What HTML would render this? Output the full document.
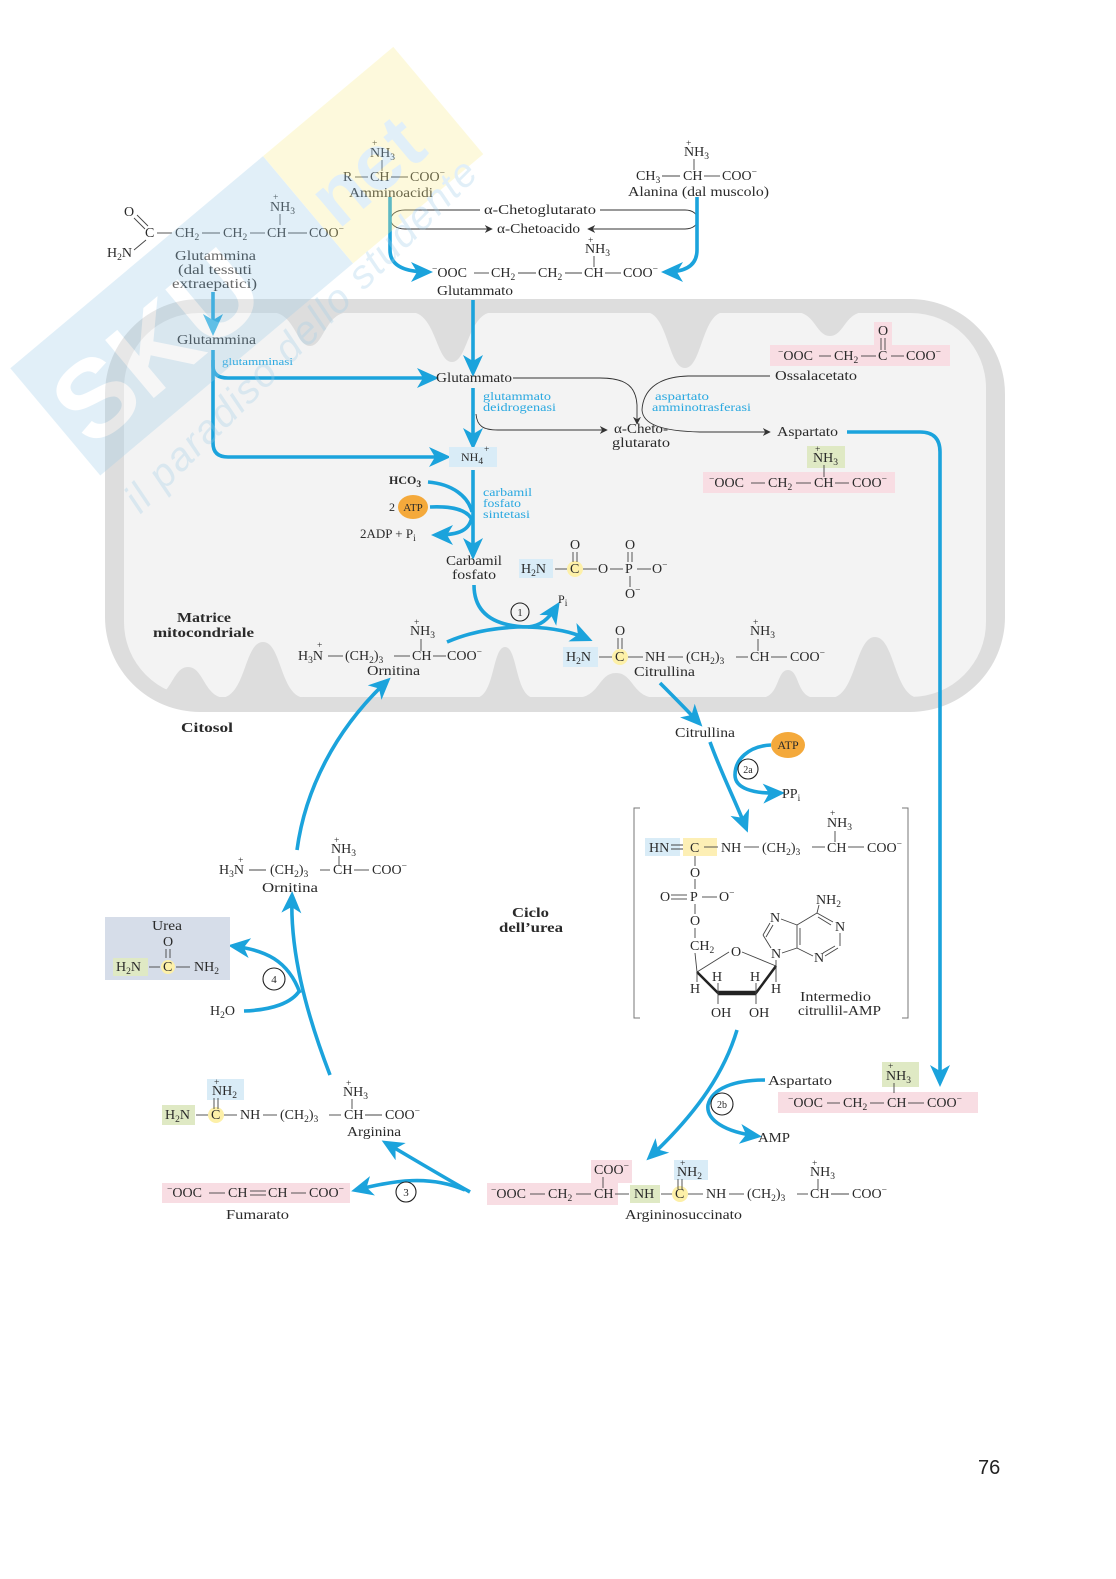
<!DOCTYPE html>
<html><head><meta charset="utf-8"><style>
html,body{margin:0;padding:0;background:#fff;}
svg{display:block}
text{font-family:"Liberation Serif",serif;font-size:14px;fill:#2a2a2a}
.s{font-size:9.5px}
.b{font-weight:bold}
.en{fill:#29a8e0;font-size:12px}
.bd{stroke:#444;stroke-width:0.9;fill:none}
.bl{stroke:#1ba3dc;stroke-width:3.6;fill:none}
.bk{stroke:#333;stroke-width:0.9;fill:none}
</style></head><body>
<svg width="1116" height="1579" viewBox="0 0 1116 1579" xmlns="http://www.w3.org/2000/svg">
<defs>
<marker id="ab" markerUnits="userSpaceOnUse" markerWidth="22" markerHeight="22" viewBox="0 0 22 22" refX="17" refY="11" orient="auto"><path d="M0,1 L22,11 L0,21 L6,11 Z" fill="#1ba3dc"/></marker>
<marker id="ak" markerUnits="userSpaceOnUse" markerWidth="8" markerHeight="8" viewBox="0 0 10 10" refX="9" refY="5" orient="auto"><path d="M0,0 L10,5 L0,10 L3,5 Z" fill="#333"/></marker>
</defs>

<!-- Mitochondrion -->
<rect x="105" y="299" width="900" height="413" rx="95" fill="#dddddd"/>
<rect x="124" y="313" width="862" height="384" rx="75" fill="#f3f3f3"/>
<g fill="#dddddd">
<path d="M270,312 C295,312 296,346 310,346 C324,346 325,312 350,312 Z"/>
<path d="M410,312 C436,312 436,362 452,362 C468,362 468,312 494,312 Z"/>
<path d="M645,312 C668,312 668,368 685,368 C702,368 702,312 725,312 Z"/>
<path d="M795,312 C815,312 816,336 830,336 C844,336 845,312 865,312 Z"/>
<path d="M150,698 C172,698 172,667 188,667 C204,667 204,698 226,698 Z"/>
<path d="M220,698 C246,698 244,642 263,642 C282,642 280,698 306,698 Z"/>
<path d="M475,698 C495,698 492,647 505,647 C518,647 515,698 535,698 Z"/>
<path d="M575,698 C600,698 598,673 616,673 C634,673 632,698 657,698 Z"/>
<path d="M760,698 C780,698 776,670 788,670 C800,670 796,698 816,698 Z"/>
<path d="M830,698 C856,698 855,637 875,637 C895,637 894,698 920,698 Z"/>
</g>

<!-- Top: Amminoacidi -->
<text x="372" y="146" class="s">+</text>
<text x="370" y="157">NH<tspan dy="3" class="s">3</tspan></text>
<line x1="382" y1="160" x2="382" y2="171" class="bd"/>
<text x="343" y="181">R</text>
<line x1="355" y1="177" x2="368" y2="177" class="bd"/>
<text x="370" y="181">CH</text>
<line x1="391" y1="177" x2="408" y2="177" class="bd"/>
<text x="410" y="181">COO<tspan dy="-5" class="s">−</tspan></text>
<text x="349" y="197" textLength="84" lengthAdjust="spacingAndGlyphs">Amminoacidi</text>

<!-- Alanina -->
<text x="686" y="146" class="s">+</text>
<text x="684" y="156">NH<tspan dy="3" class="s">3</tspan></text>
<line x1="694" y1="159" x2="694" y2="170" class="bd"/>
<text x="636" y="180">CH<tspan dy="3" class="s">3</tspan></text>
<line x1="662" y1="176" x2="680" y2="176" class="bd"/>
<text x="683" y="180">CH</text>
<line x1="704" y1="176" x2="720" y2="176" class="bd"/>
<text x="722" y="180">COO<tspan dy="-5" class="s">−</tspan></text>
<text x="628" y="196" textLength="141" lengthAdjust="spacingAndGlyphs">Alanina (dal muscolo)</text>

<!-- loops -->
<path d="M480,210 H405 C386,210 386,229 405,229 H492" class="bk" marker-end="url(#ak)"/>
<path d="M600,210 H685 C702,210 702,229 685,229 H588" class="bk" marker-end="url(#ak)"/>
<text x="484" y="214" textLength="112" lengthAdjust="spacingAndGlyphs">α-Chetoglutarato</text>
<text x="497" y="233" textLength="83" lengthAdjust="spacingAndGlyphs">α-Chetoacido</text>

<path d="M390,197 L390,250 Q390,272 428,272" class="bl" marker-end="url(#ab)"/>
<path d="M697,197 L697,250 Q697,272 666,272" class="bl" marker-end="url(#ab)"/>

<!-- Glutammato top -->
<text x="588" y="243" class="s">+</text>
<text x="585" y="253">NH<tspan dy="3" class="s">3</tspan></text>
<line x1="594" y1="256" x2="594" y2="267" class="bd"/>
<text x="432" y="277"><tspan class="s" dy="-5">−</tspan><tspan dy="5">OOC</tspan></text>
<line x1="474" y1="273" x2="489" y2="273" class="bd"/>
<text x="491" y="277">CH<tspan dy="3" class="s">2</tspan></text>
<line x1="518" y1="273" x2="536" y2="273" class="bd"/>
<text x="538" y="277">CH<tspan dy="3" class="s">2</tspan></text>
<line x1="565" y1="273" x2="582" y2="273" class="bd"/>
<text x="584" y="277">CH</text>
<line x1="605" y1="273" x2="621" y2="273" class="bd"/>
<text x="623" y="277">COO<tspan dy="-5" class="s">−</tspan></text>
<text x="437" y="295" textLength="76" lengthAdjust="spacingAndGlyphs">Glutammato</text>

<!-- Glutammina outside -->
<text x="124" y="216">O</text>
<line x1="134" y1="218" x2="145" y2="229" class="bd"/>
<line x1="137" y1="215" x2="148" y2="226" class="bd"/>
<text x="145" y="237">C</text>
<line x1="134" y1="250" x2="146" y2="240" class="bd"/>
<text x="107" y="257">H<tspan dy="3" class="s">2</tspan><tspan dy="-3">N</tspan></text>
<line x1="157" y1="233" x2="172" y2="233" class="bd"/>
<text x="175" y="237">CH<tspan dy="3" class="s">2</tspan></text>
<line x1="202" y1="233" x2="220" y2="233" class="bd"/>
<text x="223" y="237">CH<tspan dy="3" class="s">2</tspan></text>
<line x1="250" y1="233" x2="265" y2="233" class="bd"/>
<text x="267" y="237">CH</text>
<line x1="288" y1="233" x2="307" y2="233" class="bd"/>
<text x="309" y="237">COO<tspan dy="-5" class="s">−</tspan></text>
<text x="273" y="200" class="s">+</text>
<text x="270" y="211">NH<tspan dy="3" class="s">3</tspan></text>
<line x1="280" y1="214" x2="280" y2="225" class="bd"/>
<text x="175" y="260" textLength="81" lengthAdjust="spacingAndGlyphs">Glutammina</text>
<text x="178" y="274" textLength="74" lengthAdjust="spacingAndGlyphs">(dal tessuti</text>
<text x="172" y="288" textLength="85" lengthAdjust="spacingAndGlyphs">extraepatici)</text>

<path d="M213,292 V331" class="bl" marker-end="url(#ab)"/>

<!-- Mito inside -->
<text x="177" y="344" textLength="79" lengthAdjust="spacingAndGlyphs">Glutammina</text>
<path d="M213,350 V366 Q213,378 228,378 H434" class="bl" marker-end="url(#ab)"/>
<path d="M213,360 V443 Q213,457 228,457 H446" class="bl" marker-end="url(#ab)"/>
<text x="222" y="365" class="en" style="font-size:10px" textLength="71" lengthAdjust="spacingAndGlyphs">glutamminasi</text>
<path d="M473,300 V372" class="bl" marker-end="url(#ab)"/>
<text x="436" y="382" textLength="76" lengthAdjust="spacingAndGlyphs">Glutammato</text>
<path d="M473,388 V445" class="bl" marker-end="url(#ab)"/>
<text x="483" y="400" class="en" textLength="68" lengthAdjust="spacingAndGlyphs">glutammato</text>
<text x="483" y="411" class="en" textLength="73" lengthAdjust="spacingAndGlyphs">deidrogenasi</text>

<path d="M513,378 H600 C628,378 636,388 637,405 V424" class="bk" marker-end="url(#ak)"/>
<path d="M770,376 H688 C655,377 643,392 642,410 C643,424 660,431 700,432 H770" class="bk" marker-end="url(#ak)"/>
<path d="M476,414 C477,426 483,430 498,430 H607" class="bk" marker-end="url(#ak)"/>
<text x="614" y="433" textLength="54" lengthAdjust="spacingAndGlyphs">α-Cheto-</text>
<text x="612" y="447" textLength="58" lengthAdjust="spacingAndGlyphs">glutarato</text>
<text x="655" y="400" class="en" textLength="54" lengthAdjust="spacingAndGlyphs">aspartato</text>
<text x="652" y="411" class="en" textLength="99" lengthAdjust="spacingAndGlyphs">amminotrasferasi</text>
<text x="775" y="380" textLength="82" lengthAdjust="spacingAndGlyphs">Ossalacetato</text>
<text x="777" y="436" textLength="61" lengthAdjust="spacingAndGlyphs">Aspartato</text>

<!-- Ossalacetato molecule -->
<rect x="770" y="345" width="180" height="21" fill="#f8dde3"/>
<rect x="874" y="322" width="18" height="24" fill="#f8dde3"/>
<text x="878" y="335">O</text>
<line x1="881" y1="338" x2="881" y2="350" class="bd"/>
<line x1="885" y1="338" x2="885" y2="350" class="bd"/>
<text x="778" y="360"><tspan class="s" dy="-5">−</tspan><tspan dy="5">OOC</tspan></text>
<line x1="819" y1="356" x2="831" y2="356" class="bd"/>
<text x="834" y="360">CH<tspan dy="3" class="s">2</tspan></text>
<line x1="861" y1="356" x2="876" y2="356" class="bd"/>
<text x="878" y="360">C</text>
<line x1="891" y1="356" x2="904" y2="356" class="bd"/>
<text x="906" y="360">COO<tspan dy="-5" class="s">−</tspan></text>

<!-- Aspartato mito -->
<rect x="703" y="472" width="192" height="21" fill="#f8dde3"/>
<rect x="807" y="446" width="38" height="22" fill="#dfe9c4"/>
<text x="815" y="452" class="s">+</text>
<text x="813" y="462">NH<tspan dy="3" class="s">3</tspan></text>
<line x1="824" y1="465" x2="824" y2="477" class="bd"/>
<text x="709" y="487"><tspan class="s" dy="-5">−</tspan><tspan dy="5">OOC</tspan></text>
<line x1="751" y1="483" x2="765" y2="483" class="bd"/>
<text x="768" y="487">CH<tspan dy="3" class="s">2</tspan></text>
<line x1="796" y1="483" x2="811" y2="483" class="bd"/>
<text x="814" y="487">CH</text>
<line x1="835" y1="483" x2="849" y2="483" class="bd"/>
<text x="852" y="487">COO<tspan dy="-5" class="s">−</tspan></text>

<path d="M847,432 H920 Q940,432 940,452 V1082" class="bl" marker-end="url(#ab)"/>

<!-- NH4 -->
<rect x="449" y="447" width="48" height="20" fill="#d9ecf7"/>
<text x="461" y="461" style="font-size:12px">NH<tspan dy="3" class="s">4</tspan></text>
<text x="484" y="452" class="s">+</text>
<path d="M473,470 V555" class="bl" marker-end="url(#ab)"/>
<text x="483" y="496" class="en" textLength="49" lengthAdjust="spacingAndGlyphs">carbamil</text>
<text x="483" y="507" class="en" textLength="38" lengthAdjust="spacingAndGlyphs">fosfato</text>
<text x="483" y="518" class="en" textLength="47" lengthAdjust="spacingAndGlyphs">sintetasi</text>
<text x="389" y="484" class="b" style="font-size:12px">HCO<tspan dy="3" class="s">3</tspan></text>
<path d="M428,482 C452,484 468,496 472,512" class="bl"/>
<text x="389" y="511" style="font-size:12px">2</text>
<ellipse cx="413" cy="507" rx="15" ry="12" fill="#f4a93b"/>
<text x="413" y="511" text-anchor="middle" style="font-size:11px">ATP</text>
<path d="M430,507 C452,506 466,510 471,518" class="bl"/>
<path d="M472,516 C470,530 460,535 436,535" class="bl" marker-end="url(#ab)"/>
<text x="360" y="538" style="font-size:13px">2ADP + P<tspan dy="3" class="s">i</tspan></text>
<text x="446" y="565" textLength="56" lengthAdjust="spacingAndGlyphs">Carbamil</text>
<text x="452" y="579" textLength="44" lengthAdjust="spacingAndGlyphs">fosfato</text>

<!-- Carbamoyl phosphate -->
<rect x="519" y="559" width="34" height="19" fill="#d9ecf7"/>
<text x="521" y="573">H<tspan dy="3" class="s">2</tspan><tspan dy="-3">N</tspan></text>
<line x1="555" y1="569" x2="568" y2="569" class="bd"/>
<circle cx="575" cy="569" r="8" fill="#fdf0a8"/>
<text x="570" y="573">C</text>
<text x="570" y="549">O</text>
<line x1="573" y1="552" x2="573" y2="562" class="bd"/>
<line x1="577" y1="552" x2="577" y2="562" class="bd"/>
<line x1="583" y1="569" x2="597" y2="569" class="bd"/>
<text x="598" y="573">O</text>
<line x1="610" y1="569" x2="623" y2="569" class="bd"/>
<text x="625" y="573">P</text>
<text x="625" y="549">O</text>
<line x1="628" y1="552" x2="628" y2="562" class="bd"/>
<line x1="632" y1="552" x2="632" y2="562" class="bd"/>
<line x1="637" y1="569" x2="651" y2="569" class="bd"/>
<text x="652" y="573">O<tspan dy="-5" class="s">−</tspan></text>
<line x1="630" y1="576" x2="630" y2="587" class="bd"/>
<text x="625" y="598">O<tspan dy="-5" class="s">−</tspan></text>

<!-- Reaction 1 -->
<path d="M474,585 C474,612 492,626 528,627 C555,628 572,632 588,639" class="bl" marker-end="url(#ab)"/>
<path d="M447,642 C470,632 500,626 535,627" class="bl"/>
<path d="M528,627 C540,626 548,620 557,606" class="bl" marker-end="url(#ab)"/>
<text x="558" y="603" style="font-size:12px">P<tspan dy="3" class="s">i</tspan></text>
<circle cx="520" cy="612" r="9" fill="#f3f3f3" stroke="#222" stroke-width="1.1"/>
<text x="520" y="616" text-anchor="middle" style="font-size:11px">1</text>

<!-- Ornitina mito -->
<text x="414" y="625" class="s">+</text>
<text x="410" y="635">NH<tspan dy="3" class="s">3</tspan></text>
<line x1="421" y1="639" x2="421" y2="651" class="bd"/>
<text x="298" y="660">H<tspan dy="3" class="s">3</tspan><tspan dy="-3">N</tspan></text>
<text x="317" y="648" class="s">+</text>
<line x1="328" y1="656" x2="343" y2="656" class="bd"/>
<text x="345" y="660">(CH<tspan dy="3" class="s">2</tspan><tspan dy="-3">)</tspan><tspan dy="3" class="s">3</tspan></text>
<line x1="394" y1="656" x2="410" y2="656" class="bd"/>
<text x="412" y="660">CH</text>
<line x1="433" y1="656" x2="446" y2="656" class="bd"/>
<text x="447" y="660">COO<tspan dy="-5" class="s">−</tspan></text>
<text x="367" y="675" textLength="53" lengthAdjust="spacingAndGlyphs">Ornitina</text>

<text x="177" y="622" class="b" textLength="54" lengthAdjust="spacingAndGlyphs">Matrice</text>
<text x="153" y="637" class="b" textLength="101" lengthAdjust="spacingAndGlyphs">mitocondriale</text>

<!-- Citrulline -->
<text x="615" y="635">O</text>
<line x1="618" y1="638" x2="618" y2="649" class="bd"/>
<line x1="622" y1="638" x2="622" y2="649" class="bd"/>
<rect x="563" y="647" width="35" height="20" fill="#d9ecf7"/>
<text x="566" y="661">H<tspan dy="3" class="s">2</tspan><tspan dy="-3">N</tspan></text>
<line x1="599" y1="657" x2="612" y2="657" class="bd"/>
<circle cx="620" cy="657" r="8" fill="#fdf0a8"/>
<text x="615" y="661">C</text>
<line x1="628" y1="657" x2="643" y2="657" class="bd"/>
<text x="645" y="661">NH</text>
<line x1="668" y1="657" x2="683" y2="657" class="bd"/>
<text x="686" y="661">(CH<tspan dy="3" class="s">2</tspan><tspan dy="-3">)</tspan><tspan dy="3" class="s">3</tspan></text>
<line x1="736" y1="657" x2="748" y2="657" class="bd"/>
<text x="750" y="661">CH</text>
<line x1="771" y1="657" x2="787" y2="657" class="bd"/>
<text x="790" y="661">COO<tspan dy="-5" class="s">−</tspan></text>
<text x="753" y="625" class="s">+</text>
<text x="750" y="635">NH<tspan dy="3" class="s">3</tspan></text>
<line x1="758" y1="639" x2="758" y2="651" class="bd"/>
<text x="634" y="676" textLength="61" lengthAdjust="spacingAndGlyphs">Citrullina</text>

<!-- Cytosol -->
<text x="181" y="732" class="b" textLength="52" lengthAdjust="spacingAndGlyphs">Citosol</text>
<path d="M660,683 C675,698 685,708 699,723" class="bl" marker-end="url(#ab)"/>
<text x="675" y="737" textLength="60" lengthAdjust="spacingAndGlyphs">Citrullina</text>
<path d="M710,742 C722,775 735,800 746,828" class="bl" marker-end="url(#ab)"/>
<ellipse cx="788" cy="745" rx="17" ry="13" fill="#f4a93b"/>
<text x="788" y="749" text-anchor="middle" style="font-size:12px">ATP</text>
<path d="M771,745 C748,746 735,760 735,775 C735,788 752,794 780,793" class="bl" marker-end="url(#ab)"/>
<text x="782" y="798">PP<tspan dy="3" class="s">i</tspan></text>
<circle cx="748" cy="769" r="10" fill="#fff" stroke="#222" stroke-width="1.1"/>
<text x="748" y="773" text-anchor="middle" style="font-size:10px">2a</text>

<!-- Bracket -->
<path d="M640,808 H634 V1018 H640" stroke="#777" stroke-width="1" fill="none"/>
<path d="M902,808 H908 V1018 H902" stroke="#777" stroke-width="1" fill="none"/>

<!-- Intermediate -->
<rect x="645" y="838" width="35" height="18" fill="#d9ecf7"/>
<text x="649" y="852">HN</text>
<line x1="671" y1="845" x2="688" y2="845" class="bd"/>
<line x1="671" y1="849" x2="688" y2="849" class="bd"/>
<rect x="683" y="838" width="34" height="18" fill="#fdefb5"/>
<text x="690" y="852">C</text>
<line x1="704" y1="847" x2="718" y2="847" class="bd"/>
<text x="721" y="852">NH</text>
<line x1="744" y1="847" x2="759" y2="847" class="bd"/>
<text x="762" y="852">(CH<tspan dy="3" class="s">2</tspan><tspan dy="-3">)</tspan><tspan dy="3" class="s">3</tspan></text>
<line x1="812" y1="847" x2="825" y2="847" class="bd"/>
<text x="827" y="852">CH</text>
<line x1="848" y1="847" x2="864" y2="847" class="bd"/>
<text x="867" y="852">COO<tspan dy="-5" class="s">−</tspan></text>
<text x="830" y="816" class="s">+</text>
<text x="827" y="827">NH<tspan dy="3" class="s">3</tspan></text>
<line x1="835" y1="831" x2="835" y2="842" class="bd"/>
<line x1="695" y1="856" x2="695" y2="866" class="bd"/>
<text x="690" y="877">O</text>
<line x1="695" y1="879" x2="695" y2="889" class="bd"/>
<text x="690" y="901">P</text>
<text x="660" y="901">O</text>
<line x1="671" y1="895" x2="687" y2="895" class="bd"/>
<line x1="671" y1="899" x2="687" y2="899" class="bd"/>
<line x1="702" y1="897" x2="717" y2="897" class="bd"/>
<text x="719" y="901">O<tspan dy="-5" class="s">−</tspan></text>
<line x1="695" y1="904" x2="695" y2="914" class="bd"/>
<text x="690" y="925">O</text>
<line x1="695" y1="928" x2="695" y2="938" class="bd"/>
<text x="690" y="950">CH<tspan dy="3" class="s">2</tspan></text>
<line x1="695" y1="953" x2="697" y2="972" class="bd"/>
<!-- ribose -->
<line x1="697" y1="972" x2="729" y2="952" class="bd"/>
<line x1="742" y1="952" x2="776" y2="966" class="bd"/>
<text x="731" y="956">O</text>
<polyline points="697,972 718,993 756,993 776,966" fill="none" stroke="#222" stroke-width="2.5"/>
<line x1="718" y1="993" x2="756" y2="993" stroke="#222" stroke-width="4.5"/>
<line x1="718" y1="993" x2="718" y2="983" class="bd"/>
<line x1="756" y1="993" x2="756" y2="983" class="bd"/>
<text x="712" y="981">H</text>
<text x="750" y="981">H</text>
<line x1="697" y1="972" x2="697" y2="982" class="bd"/>
<line x1="776" y1="966" x2="776" y2="982" class="bd"/>
<text x="690" y="993">H</text>
<text x="771" y="993">H</text>
<line x1="718" y1="993" x2="718" y2="1004" class="bd"/>
<line x1="756" y1="993" x2="756" y2="1004" class="bd"/>
<text x="711" y="1017">OH</text>
<text x="749" y="1017">OH</text>
<!-- adenine -->
<text x="771" y="958">N</text>
<line x1="776" y1="960" x2="776" y2="966" class="bd"/>
<line x1="771" y1="948" x2="763" y2="935" class="bd"/>
<line x1="763" y1="935" x2="770" y2="923" class="bd"/>
<line x1="766" y1="937" x2="773" y2="925" class="bd"/>
<text x="770" y="922">N</text>
<line x1="781" y1="919" x2="797" y2="925" class="bd"/>
<line x1="797" y1="925" x2="797" y2="948" class="bd"/>
<line x1="800" y1="928" x2="800" y2="945" class="bd"/>
<line x1="797" y1="948" x2="782" y2="953" class="bd"/>
<line x1="797" y1="925" x2="817" y2="913" class="bd"/>
<line x1="817" y1="913" x2="833" y2="922" class="bd"/>
<line x1="818" y1="917" x2="831" y2="925" class="bd"/>
<line x1="817" y1="913" x2="819" y2="905" class="bd"/>
<text x="816" y="904">NH<tspan dy="3" class="s">2</tspan></text>
<text x="835" y="931">N</text>
<line x1="840" y1="933" x2="840" y2="946" class="bd"/>
<line x1="838" y1="948" x2="825" y2="956" class="bd"/>
<line x1="835" y1="946" x2="823" y2="953" class="bd"/>
<text x="814" y="962">N</text>
<line x1="813" y1="956" x2="797" y2="948" class="bd"/>
<text x="800" y="1001" textLength="71" lengthAdjust="spacingAndGlyphs">Intermedio</text>
<text x="798" y="1015" textLength="83" lengthAdjust="spacingAndGlyphs">citrullil-AMP</text>

<!-- 2b -->
<path d="M737,1030 C725,1070 700,1110 650,1157" class="bl" marker-end="url(#ab)"/>
<path d="M765,1080 C735,1080 712,1088 708,1105 C706,1120 725,1132 757,1136" class="bl" marker-end="url(#ab)"/>
<text x="758" y="1142" textLength="32" lengthAdjust="spacingAndGlyphs">AMP</text>
<circle cx="722" cy="1104" r="11" fill="#fff" stroke="#222" stroke-width="1.1"/>
<text x="722" y="1108" text-anchor="middle" style="font-size:10px">2b</text>
<text x="768" y="1085" textLength="64" lengthAdjust="spacingAndGlyphs">Aspartato</text>

<!-- Aspartate bottom -->
<rect x="778" y="1092" width="200" height="21" fill="#f8dde3"/>
<rect x="882" y="1062" width="37" height="25" fill="#dfe9c4"/>
<text x="888" y="1069" class="s">+</text>
<text x="886" y="1080">NH<tspan dy="3" class="s">3</tspan></text>
<line x1="894" y1="1083" x2="894" y2="1093" class="bd"/>
<text x="788" y="1107"><tspan class="s" dy="-5">−</tspan><tspan dy="5">OOC</tspan></text>
<line x1="827" y1="1103" x2="840" y2="1103" class="bd"/>
<text x="843" y="1107">CH<tspan dy="3" class="s">2</tspan></text>
<line x1="870" y1="1103" x2="884" y2="1103" class="bd"/>
<text x="887" y="1107">CH</text>
<line x1="908" y1="1103" x2="924" y2="1103" class="bd"/>
<text x="927" y="1107">COO<tspan dy="-5" class="s">−</tspan></text>

<!-- Argininosuccinate -->
<rect x="487" y="1183" width="131" height="22" fill="#f8dde3"/>
<rect x="591" y="1160" width="41" height="23" fill="#f8dde3"/>
<text x="594" y="1174">COO<tspan dy="-5" class="s">−</tspan></text>
<line x1="603" y1="1177" x2="603" y2="1188" class="bd"/>
<text x="491" y="1198"><tspan class="s" dy="-5">−</tspan><tspan dy="5">OOC</tspan></text>
<line x1="530" y1="1194" x2="545" y2="1194" class="bd"/>
<text x="548" y="1198">CH<tspan dy="3" class="s">2</tspan></text>
<line x1="576" y1="1194" x2="591" y2="1194" class="bd"/>
<text x="594" y="1198">CH</text>
<line x1="615" y1="1194" x2="629" y2="1194" class="bd"/>
<rect x="630" y="1185" width="30" height="18" fill="#dfe9c4"/>
<text x="634" y="1198">NH</text>
<line x1="661" y1="1194" x2="672" y2="1194" class="bd"/>
<circle cx="680" cy="1194" r="8" fill="#fdf0a8"/>
<text x="675" y="1198">C</text>
<line x1="688" y1="1194" x2="703" y2="1194" class="bd"/>
<text x="706" y="1198">NH</text>
<line x1="729" y1="1194" x2="744" y2="1194" class="bd"/>
<text x="747" y="1198">(CH<tspan dy="3" class="s">2</tspan><tspan dy="-3">)</tspan><tspan dy="3" class="s">3</tspan></text>
<line x1="797" y1="1194" x2="808" y2="1194" class="bd"/>
<text x="810" y="1198">CH</text>
<line x1="831" y1="1194" x2="849" y2="1194" class="bd"/>
<text x="852" y="1198">COO<tspan dy="-5" class="s">−</tspan></text>
<rect x="674" y="1160" width="34" height="20" fill="#d9ecf7"/>
<text x="680" y="1166" class="s">+</text>
<text x="677" y="1176">NH<tspan dy="3" class="s">2</tspan></text>
<line x1="678" y1="1179" x2="678" y2="1189" class="bd"/>
<line x1="682" y1="1179" x2="682" y2="1189" class="bd"/>
<text x="812" y="1166" class="s">+</text>
<text x="810" y="1176">NH<tspan dy="3" class="s">3</tspan></text>
<line x1="818" y1="1179" x2="818" y2="1189" class="bd"/>
<text x="625" y="1219" textLength="117" lengthAdjust="spacingAndGlyphs">Argininosuccinato</text>

<!-- Reaction 3 -->
<path d="M470,1192 C440,1175 415,1160 386,1143" class="bl" marker-end="url(#ab)"/>
<path d="M465,1190 C430,1175 395,1180 356,1190" class="bl" marker-end="url(#ab)"/>
<circle cx="406" cy="1192" r="10" fill="#fff" stroke="#222" stroke-width="1.1"/>
<text x="406" y="1196" text-anchor="middle" style="font-size:11px">3</text>

<!-- Fumarato -->
<rect x="162" y="1183" width="188" height="20" fill="#f8dde3"/>
<text x="167" y="1197"><tspan class="s" dy="-5">−</tspan><tspan dy="5">OOC</tspan></text>
<line x1="209" y1="1193" x2="225" y2="1193" class="bd"/>
<text x="228" y="1197">CH</text>
<line x1="250" y1="1191" x2="266" y2="1191" class="bd"/>
<line x1="250" y1="1195" x2="266" y2="1195" class="bd"/>
<text x="268" y="1197">CH</text>
<line x1="291" y1="1193" x2="306" y2="1193" class="bd"/>
<text x="309" y="1197">COO<tspan dy="-5" class="s">−</tspan></text>
<text x="226" y="1219" textLength="63" lengthAdjust="spacingAndGlyphs">Fumarato</text>

<!-- Arginina -->
<rect x="162" y="1105" width="33" height="20" fill="#dfe9c4"/>
<text x="165" y="1119">H<tspan dy="3" class="s">2</tspan><tspan dy="-3">N</tspan></text>
<line x1="196" y1="1115" x2="209" y2="1115" class="bd"/>
<circle cx="216" cy="1115" r="8" fill="#fdf0a8"/>
<text x="211" y="1119">C</text>
<line x1="224" y1="1115" x2="237" y2="1115" class="bd"/>
<text x="240" y="1119">NH</text>
<line x1="263" y1="1115" x2="277" y2="1115" class="bd"/>
<text x="280" y="1119">(CH<tspan dy="3" class="s">2</tspan><tspan dy="-3">)</tspan><tspan dy="3" class="s">3</tspan></text>
<line x1="329" y1="1115" x2="341" y2="1115" class="bd"/>
<text x="344" y="1119">CH</text>
<line x1="365" y1="1115" x2="382" y2="1115" class="bd"/>
<text x="385" y="1119">COO<tspan dy="-5" class="s">−</tspan></text>
<rect x="207" y="1079" width="37" height="21" fill="#d9ecf7"/>
<text x="214" y="1085" class="s">+</text>
<text x="212" y="1095">NH<tspan dy="3" class="s">2</tspan></text>
<line x1="214" y1="1098" x2="214" y2="1109" class="bd"/>
<line x1="218" y1="1098" x2="218" y2="1109" class="bd"/>
<text x="346" y="1086" class="s">+</text>
<text x="343" y="1096">NH<tspan dy="3" class="s">3</tspan></text>
<line x1="352" y1="1099" x2="352" y2="1109" class="bd"/>
<text x="347" y="1136" textLength="54" lengthAdjust="spacingAndGlyphs">Arginina</text>

<!-- Reaction 4 -->
<path d="M330,1075 C305,1010 290,950 292,896" class="bl" marker-end="url(#ab)"/>
<path d="M300,993 C288,960 265,950 233,946" class="bl" marker-end="url(#ab)"/>
<path d="M244,1011 C272,1010 292,1003 300,990" class="bl"/>
<circle cx="274" cy="979" r="11" fill="#fff" stroke="#222" stroke-width="1.1"/>
<text x="274" y="983" text-anchor="middle" style="font-size:11px">4</text>

<!-- Urea -->
<rect x="105" y="917" width="125" height="63" fill="#d6dde9"/>
<text x="152" y="930" textLength="30" lengthAdjust="spacingAndGlyphs">Urea</text>
<text x="163" y="946">O</text>
<line x1="166" y1="949" x2="166" y2="958" class="bd"/>
<line x1="170" y1="949" x2="170" y2="958" class="bd"/>
<rect x="113" y="958" width="35" height="18" fill="#dfe9c4"/>
<text x="116" y="971">H<tspan dy="3" class="s">2</tspan><tspan dy="-3">N</tspan></text>
<line x1="149" y1="967" x2="160" y2="967" class="bd"/>
<circle cx="168" cy="967" r="7" fill="#fdf0a8"/>
<text x="163" y="971">C</text>
<line x1="176" y1="967" x2="190" y2="967" class="bd"/>
<text x="194" y="971">NH<tspan dy="3" class="s">2</tspan></text>
<text x="210" y="1015">H<tspan dy="3" class="s">2</tspan><tspan dy="-3">O</tspan></text>

<!-- Ornitina cytosol -->
<text x="219" y="874">H<tspan dy="3" class="s">3</tspan><tspan dy="-3">N</tspan></text>
<text x="238" y="863" class="s">+</text>
<line x1="249" y1="870" x2="266" y2="870" class="bd"/>
<text x="270" y="874">(CH<tspan dy="3" class="s">2</tspan><tspan dy="-3">)</tspan><tspan dy="3" class="s">3</tspan></text>
<line x1="320" y1="870" x2="330" y2="870" class="bd"/>
<text x="333" y="874">CH</text>
<line x1="354" y1="870" x2="369" y2="870" class="bd"/>
<text x="372" y="874">COO<tspan dy="-5" class="s">−</tspan></text>
<text x="334" y="843" class="s">+</text>
<text x="331" y="853">NH<tspan dy="3" class="s">3</tspan></text>
<line x1="339" y1="856" x2="339" y2="866" class="bd"/>
<text x="262" y="892" textLength="56" lengthAdjust="spacingAndGlyphs">Ornitina</text>

<path d="M297,850 C305,790 335,730 387,681" class="bl" marker-end="url(#ab)"/>

<text x="512" y="917" class="b" textLength="37" lengthAdjust="spacingAndGlyphs">Ciclo</text>
<text x="499" y="932" class="b" textLength="64" lengthAdjust="spacingAndGlyphs">dell’urea</text>

<!-- Watermark -->
<g opacity="0.3">
<g transform="translate(250,265) rotate(-40)">
<rect x="-250" y="-75" width="330" height="140" fill="#9fcde9"/>
<rect x="80" y="-75" width="170" height="140" fill="#f9ee8e"/>
<text x="-240" y="40" style="font-family:'Liberation Sans',sans-serif;font-size:110px;font-weight:bold;fill:#ffffff">SKU</text>
<text x="90" y="30" style="font-family:'Liberation Sans',sans-serif;font-size:80px;font-weight:bold;fill:#9fcde9">net</text>
</g>
<text transform="translate(310,345) rotate(-45)" text-anchor="middle" textLength="480" style="font-family:'Liberation Sans',sans-serif;font-size:40px;font-style:italic;fill:#9fcde9">il paradiso dello studente</text>
</g>

<text x="978" y="1474" style="font-family:'Liberation Sans',sans-serif;font-size:20px;fill:#222">76</text>
</svg>
</body></html>
